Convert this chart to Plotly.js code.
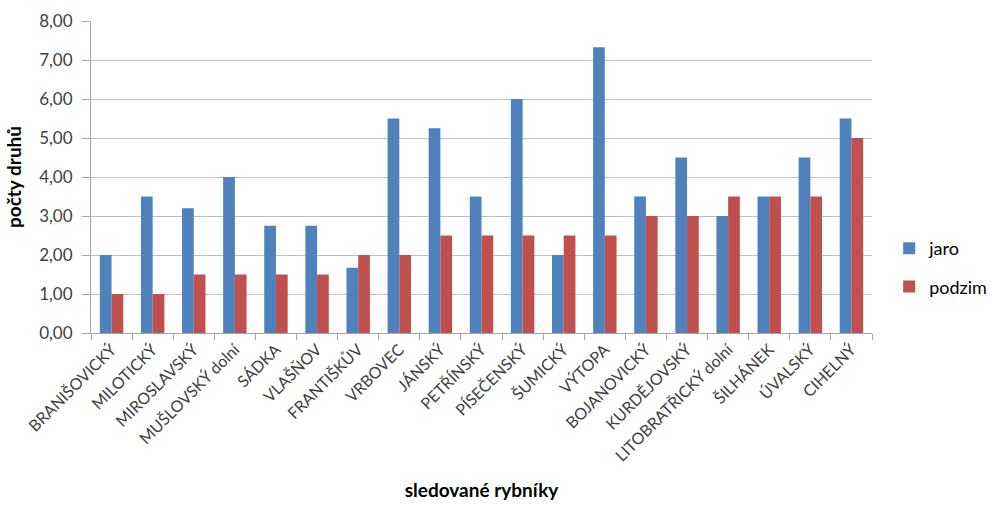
<!DOCTYPE html>
<html>
<head>
<meta charset="utf-8">
<script src="https://cdn.plot.ly/plotly-3.0.1.min.js"></script>
<style>html,body{margin:0;padding:0;background:#fff;}#chart{width:992px;height:507px;}</style>
</head>
<body>
<div id="chart"></div>
<script>
const categories = ["BRANIŠOVICKÝ","MILOTICKÝ","MIROSLAVSKÝ","MUŠLOVSKÝ dolní","SÁDKA","VLAŠŇOV","FRANTIŠKŮV","VRBOVEC","JÁNSKÝ","PETŘÍNSKÝ","PÍSEČENSKÝ","ŠUMICKÝ","VÝTOPA","BOJANOVICKÝ","KURDĚJOVSKÝ","LITOBRATŘICKÝ dolní","ŠILHÁNEK","ÚVALSKÝ","CIHELNÝ"];
const jaro = [2, 3.5, 3.2, 4, 2.75, 2.75, 1.67, 5.5, 5.25, 3.5, 6, 2, 7.33, 3.5, 4.5, 3, 3.5, 4.5, 5.5];
const podzim = [1, 1, 1.5, 1.5, 1.5, 1.5, 2, 2, 2.5, 2.5, 2.5, 2.5, 2.5, 3, 3, 3.5, 3.5, 3.5, 5];
const yTicks = [0,1,2,3,4,5,6,7,8];

const font = "Lato, 'Open Sans', sans-serif";
const data = [
  {type:"bar", name:"jaro", x:categories, y:jaro, marker:{color:"#4F81BD"}, legendgroup:"a"},
  {type:"bar", name:"podzim", x:categories, y:podzim, marker:{color:"#C0504D"}, legendgroup:"b"}
];
const layout = {
  width:992, height:507,
  margin:{l:91, r:120, t:21, b:174, autoexpand:false},
  paper_bgcolor:"#fff", plot_bgcolor:"#fff",
  font:{family:font, color:"#404040", size:16},
  separators:",.",
  barmode:"group", bargap:0.43, bargroupgap:0,
  xaxis:{
    type:"category", tickangle:-45, tickson:"boundaries",
    ticks:"outside", ticklen:6, tickcolor:"#a6a6a6",
    showline:true, linecolor:"#a6a6a6", linewidth:1,
    tickfont:{family:font, size:16, color:"#404040"},
    title:{text:"<b>sledované rybníky</b>", font:{family:font, size:19, color:"#000"}, standoff:20},
    automargin:false
  },
  yaxis:{
    range:[0,8], tickvals:yTicks, tickformat:".2f",
    ticks:"outside", ticklen:8, tickcolor:"#a6a6a6",
    showline:true, linecolor:"#a6a6a6", linewidth:1,
    gridcolor:"#bfbfbf", gridwidth:1, zeroline:false,
    tickfont:{family:font, size:17, color:"#404040"},
    ticklabelstandoff:6,
    title:{text:"<b>počty druhů</b>", font:{family:font, size:19, color:"#000"}, standoff:12},
    automargin:false
  },
  legend:{x:1.022, y:0.21, xanchor:"left", yanchor:"middle", font:{family:font, size:18, color:"#000"}, tracegroupgap:12, itemwidth:30},
  showlegend:true
};
Plotly.newPlot("chart", data, layout, {staticPlot:true});
</script>
</body>
</html>
